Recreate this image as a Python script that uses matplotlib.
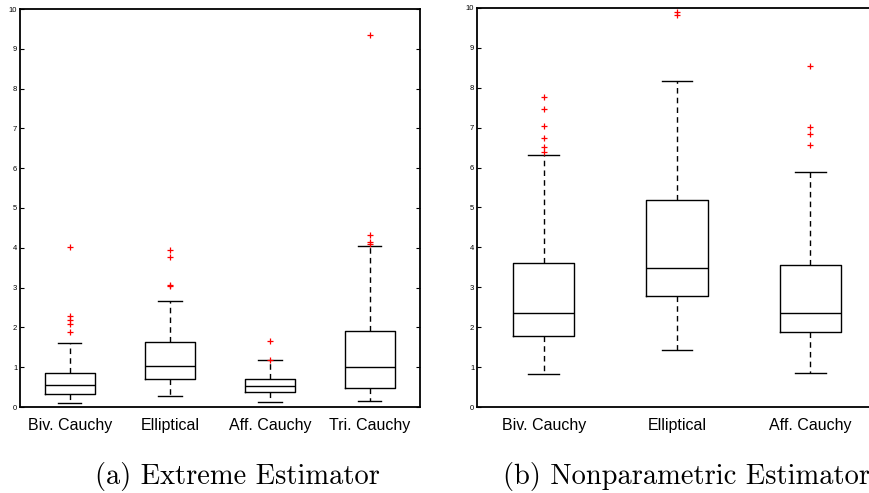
import matplotlib
matplotlib.use("Agg")
import matplotlib.pyplot as plt

# box statistics
labels_a = ["Biv. Cauchy", "Elliptical", "Aff. Cauchy", "Tri. Cauchy"]
whislo_a = [0.10, 0.27, 0.12, 0.15]
q1_a = [0.33, 0.70, 0.38, 0.48]
med_a = [0.56, 1.03, 0.52, 1.00]
q3_a = [0.85, 1.63, 0.70, 1.92]
whishi_a = [1.62, 2.67, 1.17, 4.04]
fliers_a = [[1.88, 2.08, 2.19, 2.29, 4.03],
            [3.05, 3.07, 3.76, 3.95],
            [1.19, 1.66],
            [4.09, 4.14, 4.31, 9.34]]

labels_b = ["Biv. Cauchy", "Elliptical", "Aff. Cauchy"]
whislo_b = [0.82, 1.42, 0.84]
q1_b = [1.78, 2.78, 1.89]
med_b = [2.36, 3.49, 2.36]
q3_b = [3.60, 5.19, 3.56]
whishi_b = [6.31, 8.17, 5.88]
fliers_b = [[6.38, 6.51, 6.74, 7.04, 7.47, 7.77],
            [9.83, 9.91],
            [6.56, 6.83, 7.01, 8.54]]

captions = ["(a) Extreme Estimator", "(b) Nonparametric Estimator"]

W, H = 870, 493
fig = plt.figure(figsize=(W / 100, H / 100), dpi=100)


def px_axes(x0, y_top, w, h):
    return fig.add_axes([x0 / W, (H - y_top - h) / H, w / W, h / H])


def draw(ax, labels, wl, q1, med, q3, wh, fl, width, capw):
    stats = []
    for i in range(len(labels)):
        stats.append(dict(label=labels[i], whislo=wl[i], q1=q1[i], med=med[i],
                          q3=q3[i], whishi=wh[i], fliers=fl[i]))
    ax.bxp(stats, widths=width, capwidths=capw,
           boxprops=dict(color="black", linewidth=1.0),
           medianprops=dict(color="black", linewidth=1.0),
           whiskerprops=dict(color="black", linewidth=1.0, dashes=(4, 3)),
           capprops=dict(color="black", linewidth=1.0),
           flierprops=dict(marker="+", markeredgecolor="red", markersize=5,
                           markeredgewidth=0.9, linestyle="none"))
    ax.set_xlim(0.5, len(labels) + 0.5)
    ax.set_ylim(0, 10)
    ax.set_yticks(range(0, 11))
    ax.tick_params(axis="y", direction="in", length=3, width=0.8,
                   labelsize=5.5, pad=2, right=True)
    ax.tick_params(axis="x", length=0, pad=8, labelsize=11.5)
    for lab in ax.get_xticklabels():
        lab.set_fontfamily("Liberation Sans")
    for lab in ax.get_yticklabels():
        lab.set_fontfamily("Liberation Sans")
    for s in ax.spines.values():
        s.set_linewidth(1.3)


ax1 = px_axes(20, 9, 400, 398)
draw(ax1, labels_a, whislo_a, q1_a, med_a, q3_a, whishi_a, fliers_a, 0.5, 0.23)

# right panel runs past the edge of the picture
ax2 = px_axes(477, 8, 400, 399)
draw(ax2, labels_b, whislo_b, q1_b, med_b, q3_b, whishi_b, fliers_b, 0.46, 0.23)
ax2.spines["right"].set_visible(False)
ax2.tick_params(axis="y", right=False)

fig.text(237 / W, 1 - 484 / H, captions[0], ha="center", va="baseline",
         fontsize=20.5, family="cmr10")
fig.text(503 / W, 1 - 484 / H, captions[1], ha="left", va="baseline",
         fontsize=20.5, family="cmr10")

fig.savefig("out.png", dpi=100)
